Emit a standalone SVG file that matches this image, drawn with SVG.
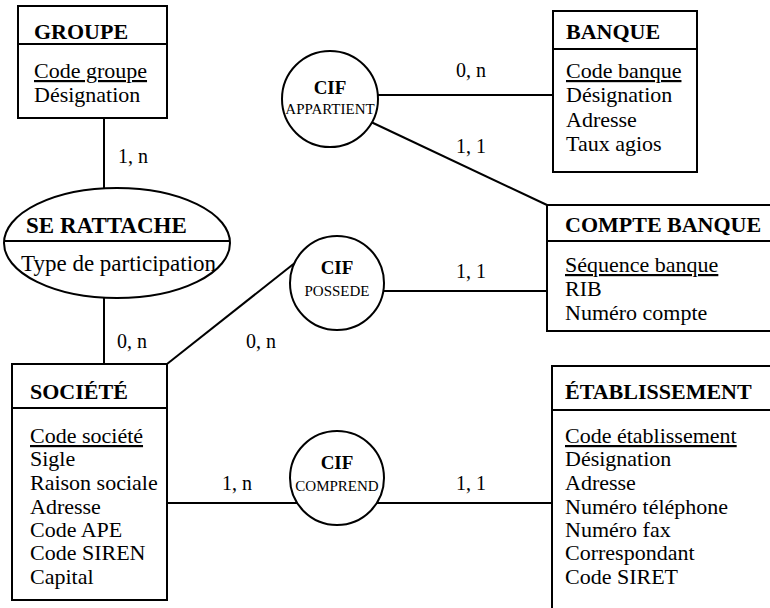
<svg xmlns="http://www.w3.org/2000/svg" width="770" height="608" viewBox="0 0 770 608">
<style>
text{font-family:"Liberation Serif","Times New Roman",serif;fill:#000}
.h{font-size:22px;font-weight:bold}
.a{font-size:22px}
.e{font-size:23px}
.eh{font-size:23px;font-weight:bold}
.u{text-decoration:underline}
.c{font-size:20px}
.cif{font-size:19px;font-weight:bold;text-anchor:middle}
.lab{font-size:15px;text-anchor:middle}
.box{fill:#fff;stroke:#000;stroke-width:2}
.div{stroke:#000;stroke-width:2}
.ln{stroke:#000;stroke-width:2;fill:none}
</style>
<rect width="770" height="608" fill="#fff"/>
<g id="connectors">
<line class="ln" x1="104" y1="118" x2="104" y2="189"/>
<line class="ln" x1="104" y1="298" x2="104" y2="364"/>
<line class="ln" x1="167" y1="364" x2="296" y2="262"/>
<line class="ln" x1="378" y1="95" x2="553" y2="95"/>
<line class="ln" x1="371" y1="122" x2="547" y2="205"/>
<line class="ln" x1="383" y1="291" x2="547" y2="291"/>
<line class="ln" x1="167" y1="503" x2="299" y2="503"/>
<line class="ln" x1="375" y1="503" x2="552" y2="503"/>
<text class="c" x="118" y="163">1, n</text>
<text class="c" x="117" y="348">0, n</text>
<text class="c" x="246" y="348">0, n</text>
<text class="c" x="456" y="77">0, n</text>
<text class="c" x="456" y="153">1, 1</text>
<text class="c" x="456" y="278">1, 1</text>
<text class="c" x="222" y="490">1, n</text>
<text class="c" x="456" y="490">1, 1</text>
</g>
<g id="groupe">
<rect class="box" x="18" y="6" width="149" height="112"/>
<line class="div" x1="18" y1="44" x2="167" y2="44"/>
<text class="h" x="34" y="39">GROUPE</text>
<text class="a u" x="34" y="78">Code groupe</text>
<text class="a" x="34" y="102">Désignation</text>
</g>
<g id="banque">
<rect class="box" x="553" y="11" width="144" height="161"/>
<line class="div" x1="553" y1="49" x2="697" y2="49"/>
<text class="h" x="566" y="39">BANQUE</text>
<text class="a u" x="566" y="78">Code banque</text>
<text class="a" x="566" y="102">Désignation</text>
<text class="a" x="566" y="127">Adresse</text>
<text class="a" x="566" y="151">Taux agios</text>
</g>
<g id="appartient">
<circle class="box" cx="330" cy="99" r="48"/>
<text class="cif" x="330" y="94">CIF</text>
<text class="lab" x="330" y="114">APPARTIENT</text>
</g>
<g id="se-rattache">
<ellipse class="box" cx="117" cy="243" rx="113" ry="55"/>
<line class="div" x1="5" y1="241" x2="229" y2="241"/>
<text class="eh" x="26" y="233">SE RATTACHE</text>
<text class="e" x="21" y="271">Type de participation</text>
</g>
<g id="possede">
<circle class="box" cx="337" cy="283" r="47"/>
<text class="cif" x="337" y="274">CIF</text>
<text class="lab" x="337" y="296">POSSEDE</text>
</g>
<g id="compte-banque">
<rect class="box" x="547" y="205" width="240" height="126"/>
<line class="div" x1="547" y1="241" x2="787" y2="241"/>
<text class="h" x="565" y="232">COMPTE BANQUE</text>
<text class="a u" x="565" y="272">Séquence banque</text>
<text class="a" x="565" y="296">RIB</text>
<text class="a" x="565" y="320">Numéro compte</text>
</g>
<g id="societe">
<rect class="box" x="12" y="364" width="155" height="236"/>
<line class="div" x1="12" y1="408" x2="167" y2="408"/>
<text class="h" x="30" y="399">SOCIÉTÉ</text>
<text class="a u" x="30" y="443">Code société</text>
<text class="a" x="30" y="466">Sigle</text>
<text class="a" x="30" y="490">Raison sociale</text>
<text class="a" x="30" y="514">Adresse</text>
<text class="a" x="30" y="537">Code APE</text>
<text class="a" x="30" y="560">Code SIREN</text>
<text class="a" x="30" y="584">Capital</text>
</g>
<g id="comprend">
<circle class="box" cx="337" cy="478" r="47"/>
<text class="cif" x="337" y="469">CIF</text>
<text class="lab" x="337" y="491">COMPREND</text>
</g>
<g id="etablissement">
<rect class="box" x="552" y="366" width="240" height="250"/>
<line class="div" x1="552" y1="410" x2="792" y2="410"/>
<text class="h" x="565" y="399">ÉTABLISSEMENT</text>
<text class="a u" x="565" y="443">Code établissement</text>
<text class="a" x="565" y="466">Désignation</text>
<text class="a" x="565" y="490">Adresse</text>
<text class="a" x="565" y="514">Numéro téléphone</text>
<text class="a" x="565" y="537">Numéro fax</text>
<text class="a" x="565" y="560">Correspondant</text>
<text class="a" x="565" y="584">Code SIRET</text>
</g>
</svg>
